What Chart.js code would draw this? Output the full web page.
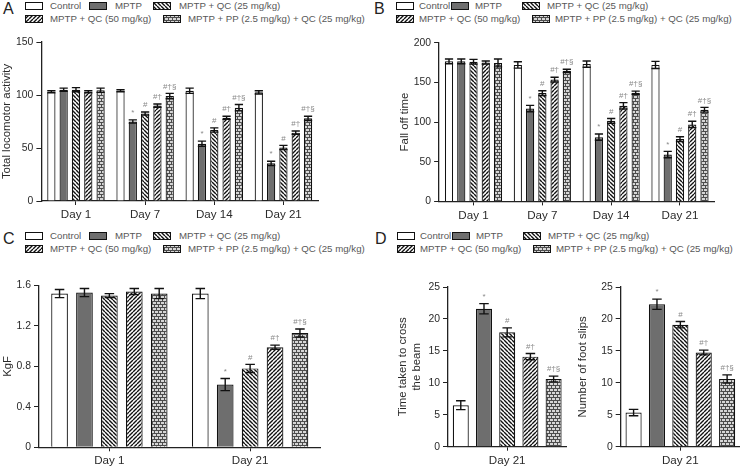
<!DOCTYPE html>
<html>
<head>
<meta charset="utf-8">
<script src="https://cdn.jsdelivr.net/npm/chart.js@4.4.0/dist/chart.umd.min.js"></script>
<style>
  body { margin: 0; background: #fff; width: 740px; height: 467px; overflow: hidden; position: relative;
         font-family: 'Liberation Sans', Arial, sans-serif; color: #333; }
  canvas { position: absolute; }
  .lt { position: absolute; font-size: 9.7px; line-height: 12px; white-space: nowrap; color: #585858; }
  .letter { position: absolute; font-size: 16px; line-height: 18px; color: #222; }
</style>
</head>
<body>
<script>
// groups shown in every panel
const groups = ['Control', 'MPTP', 'MPTP + QC (25 mg/kg)', 'MPTP + QC (50 mg/kg)', 'MPTP + PP (2.5 mg/kg) + QC (25 mg/kg)'];
const sigMarks = ['', '*', '#', '#†', '#†§'];

// A - total locomotor activity
const daysAB = ['Day 1', 'Day 7', 'Day 14', 'Day 21'];
const locoTicks = [0, 50, 100, 150];
const locoMean = [
    [103, 104, 104, 102.5],
    [105, 75, 54, 35.5],
    [105, 82.5, 67, 50.5],
    [103, 90, 78.5, 64.5],
    [104.5, 99, 88, 78]
];
const locoErr = [
    [1, 1, 2.5, 1.5],
    [1.5, 1.5, 2.5, 2],
    [2, 1.5, 2, 2],
    [1, 1.5, 1.5, 1.5],
    [2, 2.5, 3, 2]
];
const markedAB = [false, true, true, true];

// B - fall off time
const fallTicks = [0, 50, 100, 150, 200];
const fallMean = [
    [176.5, 172, 173, 172],
    [176.5, 117, 81, 59],
    [176, 136.5, 101.5, 78.5],
    [175, 153.5, 120.5, 97],
    [174.5, 164.5, 137, 115.5]
];
const fallErr = [
    [3, 4, 4, 4.5],
    [3, 4, 4, 4],
    [3, 3, 3, 3],
    [2, 3, 4, 4],
    [5, 2, 2, 3]
];

// C - grip strength
const daysC = ['Day 1', 'Day 21'];
const gripTicks = [0, 0.4, 0.8, 1.2, 1.6];
const gripMean = [
    [1.52, 1.52],
    [1.53, 0.62],
    [1.50, 0.78],
    [1.54, 0.99],
    [1.52, 1.13]
];
const gripErr = [
    [0.04, 0.05],
    [0.04, 0.06],
    [0.02, 0.04],
    [0.03, 0.02],
    [0.05, 0.04]
];
const markedC = [false, true];

// D - beam walk
const daysD = ['Day 21'];
const beamTicks = [0, 5, 10, 15, 20, 25];
const beamMean = [[6.5], [21.6], [17.9], [14.1], [10.6]];
const beamErr = [[0.7], [0.8], [0.7], [0.5], [0.45]];
const slipMean = [[5.35], [22.3], [19.1], [14.75], [10.6]];
const slipErr = [[0.5], [0.8], [0.5], [0.37], [0.65]];
const markedD = [true];

const FONT = "'Liberation Sans', Arial, sans-serif";
const fillKinds = ['white', 'gray', 'back', 'fwd', 'mesh'];

function makeTile(w, h, draw) {
    const c = document.createElement('canvas');
    c.width = w; c.height = h;
    draw(c.getContext('2d'), w, h);
    return c;
}

function fillFor(kind, ctx) {
    if (kind === 'white') return '#ffffff';
    if (kind === 'gray') return '#6e6e6e';
    let t;
    if (kind === 'mesh') {
        t = makeTile(4, 6, g => {
            g.fillStyle = '#4d4d4d'; g.fillRect(0, 0, 4, 6);
            g.fillStyle = '#d6d6d6';
            g.fillRect(0, 0, 3, 2);
            g.fillRect(2, 3, 2, 2); g.fillRect(0, 3, 1, 2);
        });
    } else {
        t = makeTile(4, 4, (g, w, h) => {
            g.fillStyle = '#fff'; g.fillRect(0, 0, w, h);
            g.strokeStyle = '#111'; g.lineWidth = 1.4;
            g.beginPath();
            for (let k = -w; k <= w; k += w) {
                if (kind === 'back') { g.moveTo(k, 0); g.lineTo(k + w, h); }
                else { g.moveTo(k, h); g.lineTo(k + w, 0); }
            }
            g.stroke();
        });
    }
    return ctx.createPattern(t, 'repeat');
}

// error bars + significance marks
const errorBars = {
    id: 'errorBars',
    afterDatasetsDraw(chart) {
        const ctx = chart.ctx, y = chart.scales.y;
        chart.data.datasets.forEach((ds, i) => {
            chart.getDatasetMeta(i).data.forEach((bar, j) => {
                const v = ds.data[j], e = ds.err[j];
                const top = y.getPixelForValue(v + e), bot = y.getPixelForValue(v - e);
                const cap = Math.min(bar.width, 9.5) / 2;
                ctx.save();
                ctx.strokeStyle = '#111';
                ctx.lineWidth = 1.4;
                ctx.beginPath();
                ctx.moveTo(bar.x, top); ctx.lineTo(bar.x, bot);
                ctx.moveTo(bar.x - cap, top); ctx.lineTo(bar.x + cap, top);
                ctx.moveTo(bar.x - cap, bot); ctx.lineTo(bar.x + cap, bot);
                ctx.stroke();
                const m = ds.marks[j];
                if (m) {
                    ctx.fillStyle = '#888';
                    ctx.font = '8px ' + FONT;
                    ctx.textAlign = 'center';
                    ctx.textBaseline = 'middle';
                    ctx.fillText(m, bar.x, top - 7);
                }
                ctx.restore();
            });
        });
    }
};

function makeChart(p) {
    const cv = document.createElement('canvas');
    cv.width = p.box.w; cv.height = p.box.h;
    cv.style.left = p.box.l + 'px'; cv.style.top = p.box.t + 'px';
    document.body.appendChild(cv);
    const ctx = cv.getContext('2d');

    new Chart(ctx, {
        type: 'bar',
        data: {
            labels: p.labels,
            datasets: groups.map((g, i) => ({
                label: g,
                data: p.mean[i],
                err: p.err[i],
                marks: p.marked.map(on => on ? sigMarks[i] : ''),
                backgroundColor: fillFor(fillKinds[i], ctx),
                borderColor: '#111',
                borderWidth: 1.2,
                barPercentage: p.bar,
                categoryPercentage: p.cat
            }))
        },
        options: {
            responsive: false,
            animation: false,
            devicePixelRatio: 1,
            layout: { padding: p.pad },
            plugins: { legend: { display: false }, tooltip: { enabled: false } },
            scales: {
                x: {
                    afterFit: s => { s.height = p.xh; },
                    border: { color: '#222', width: 1.3 },
                    grid: { drawOnChartArea: false, offset: false, tickLength: 4, color: '#222' },
                    ticks: { color: '#2a2a2a', padding: 3, font: { family: FONT, size: 11.6 } }
                },
                y: {
                    min: p.ticks[0],
                    max: p.ticks[p.ticks.length - 1],
                    afterFit: s => { s.width = p.yw; },
                    afterBuildTicks: s => { s.ticks = p.ticks.map(v => ({ value: v })); },
                    border: { color: '#222', width: 1.3 },
                    grid: { drawOnChartArea: false, tickLength: 5, color: '#222' },
                    ticks: { color: '#2a2a2a', padding: 3, font: { family: FONT, size: 10.4 }, callback: v => String(v) },
                    title: { display: true, text: p.title, color: '#2a2a2a', padding: { top: 0, bottom: 0 },
                             font: { family: FONT, size: 11.4 } }
                }
            }
        },
        plugins: [errorBars]
    });
}

const panels = [
    { box: { l: 0, t: 30, w: 330, h: 200 }, pad: { left: 0, right: 12, top: 12, bottom: 7 }, yw: 41.4, xh: 22,
      labels: daysAB, mean: locoMean, err: locoErr, marked: markedAB, ticks: locoTicks,
      title: 'Total locomotor activity', cat: 0.89, bar: 0.67 },
    { box: { l: 398, t: 30, w: 342, h: 200 }, pad: { left: 0, right: 25.6, top: 12.7, bottom: 6.6 }, yw: 41.1, xh: 22,
      labels: daysAB, mean: fallMean, err: fallErr, marked: markedAB, ticks: fallTicks,
      title: 'Fall off time', cat: 0.89, bar: 0.67 },
    { box: { l: 1, t: 260, w: 330, h: 207 }, pad: { left: 0, right: 10.5, top: 25.5, bottom: 0 }, yw: 38, xh: 19.7,
      labels: daysC, mean: gripMean, err: gripErr, marked: markedC, ticks: gripTicks,
      title: 'KgF', cat: 0.885, bar: 0.67 },
    { box: { l: 396, t: 260, w: 174, h: 207 }, pad: { left: 0, right: 3.6, top: 27, bottom: 0 }, yw: 52, xh: 20.3,
      labels: daysD, mean: beamMean, err: beamErr, marked: markedD, ticks: beamTicks,
      title: ['Time taken to cross', 'the beam'], cat: 0.98, bar: 0.69 },
    { box: { l: 576, t: 260, w: 164, h: 207 }, pad: { left: 0, right: 0, top: 27, bottom: 0 }, yw: 44.7, xh: 20.3,
      labels: daysD, mean: slipMean, err: slipErr, marked: markedD, ticks: beamTicks,
      title: 'Number of foot slips', cat: 0.98, bar: 0.69 }
];
panels.forEach(makeChart);

// legends drawn as html text with small pattern swatches
function addLegend(x0, y0, letter, spots) {
    const L = document.createElement('div');
    L.className = 'letter';
    L.textContent = letter;
    L.style.left = (x0 + 3) + 'px';
    L.style.top = (y0 + 0) + 'px';
    document.body.appendChild(L);
    spots.forEach((s, i) => {
        const rowY = y0 + (s[2] ? 19 : 6);
        const sw = document.createElement('canvas');
        sw.width = 18; sw.height = 8;
        sw.style.left = (x0 + s[0]) + 'px';
        sw.style.top = (rowY - 4) + 'px';
        document.body.appendChild(sw);
        const g = sw.getContext('2d');
        g.fillStyle = fillFor(fillKinds[i], g);
        g.fillRect(0, 0, 18, 8);
        g.strokeStyle = '#111';
        g.lineWidth = 1;
        g.strokeRect(0.5, 0.5, 17, 7);
        const t = document.createElement('div');
        t.className = 'lt';
        t.textContent = groups[i];
        t.style.left = (x0 + s[1]) + 'px';
        t.style.top = (rowY - 6) + 'px';
        document.body.appendChild(t);
    });
}
const spotsLeft = [[25, 50, 0], [89, 115, 0], [153, 179, 0], [25, 50, 1], [163, 188, 1]];
const spotsRight = [[25, 48, 0], [80, 104, 0], [151, 176, 0], [25, 48, 1], [161, 184, 1]];
addLegend(0, 0, 'A', spotsLeft);
addLegend(371, 0, 'B', spotsRight);
addLegend(0, 230, 'C', spotsLeft);
addLegend(372, 230, 'D', spotsRight);
</script>
</body>
</html>
